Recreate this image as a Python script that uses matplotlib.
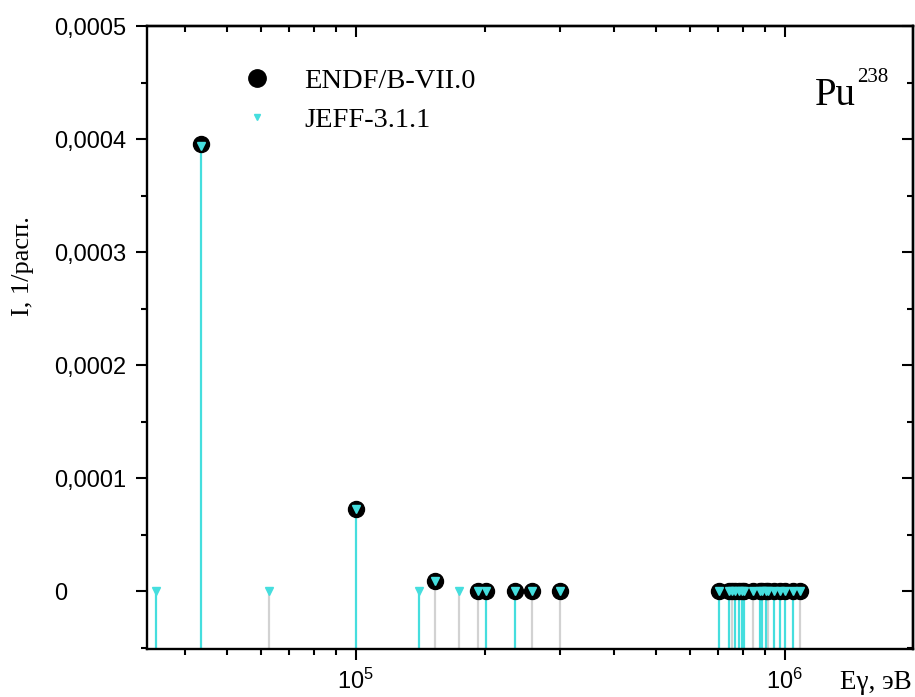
import matplotlib
matplotlib.use('Agg')
import matplotlib.pyplot as plt
from matplotlib.ticker import FuncFormatter, LogLocator, MultipleLocator, NullFormatter
from matplotlib.lines import Line2D

# ENDF/B-VII.0 lines: energy (eV) and intensity (1/decay)
endf_energy = [43500, 99900, 152700, 192800, 201000, 235000, 257700, 299500,
               703000, 742000, 752000, 765000, 783000, 793000, 804000, 844000,
               875000, 887000, 903000, 914000, 943000, 974000, 1000000,
               1045000, 1084000]
endf_intensity = [0.000396, 0.0000728, 0.0000088, 0, 0, 0, 0, 0,
                  0, 0, 0, 0, 0, 0, 0, 0,
                  0, 0, 0, 0, 0, 0, 0,
                  0, 0]

# JEFF-3.1.1 lines
jeff_energy = [34250, 43500, 62800, 99900, 140400, 152700, 174000, 192800,
               201000, 235000, 257700, 299500,
               703000, 742000, 752000, 765000, 783000, 793000, 804000, 844000,
               875000, 887000, 903000, 914000, 943000, 974000, 1000000,
               1045000, 1084000]
jeff_intensity = [0, 0.000394, 0, 0.0000728, 0, 0.0000088, 0, 0,
                  0, 0, 0, 0,
                  0, 0, 0, 0, 0, 0, 0, 0,
                  0, 0, 0, 0, 0, 0, 0,
                  0, 0]

# JEFF drop lines that show up grey in the original
grey_drop = {62800, 152700, 174000, 192800, 257700, 299500,
             752000, 844000, 914000, 1084000}

CYAN = '#45dede'
GREY = '#d2d2d2'
SERIF = 'Liberation Serif'

plt.rcParams['font.family'] = 'Liberation Sans'
plt.rcParams['mathtext.fontset'] = 'custom'
plt.rcParams['mathtext.rm'] = 'Liberation Sans'

W, H = 915, 697
fig = plt.figure(figsize=(W / 100, H / 100), dpi=100)
ax = fig.add_axes([147 / W, 1 - 649 / H, (913 - 147) / W, (649 - 26) / H])
ax.set_xscale('log')
ax.set_xlim(32600, 1.99e6)
ax.set_ylim(-0.000051, 0.0005)
ybot = ax.get_ylim()[0]

# drop lines
ax.vlines(endf_energy, ybot, endf_intensity, color=GREY, lw=1.3, zorder=1)
for e, v in zip(jeff_energy, jeff_intensity):
    c = GREY if e in grey_drop else CYAN
    ax.vlines(e, ybot, v, color=c, lw=1.6, zorder=2 if c == CYAN else 1)

ax.plot(endf_energy, endf_intensity, ls='none', marker='o', ms=11.5,
        color='black', zorder=3)
ax.plot(jeff_energy, jeff_intensity, ls='none', marker='v', ms=5.5,
        color=CYAN, zorder=4)

# axes styling
for s in ax.spines.values():
    s.set_linewidth(1.7)
ax.xaxis.set_major_locator(LogLocator(base=10))
ax.xaxis.set_minor_locator(LogLocator(base=10, subs=range(2, 10)))
ax.xaxis.set_minor_formatter(NullFormatter())
ax.set_yticks([0, 0.0001, 0.0002, 0.0003, 0.0004, 0.0005])
ax.yaxis.set_minor_locator(MultipleLocator(0.00005))
ax.yaxis.set_major_formatter(FuncFormatter(
    lambda v, p: '0' if abs(v) < 1e-12 else f'{v:.4f}'.replace('.', ',')))

ax.tick_params(which='major', length=8, width=1.5, labelsize=17)
ax.tick_params(which='minor', length=4.5, width=1.5)
ax.tick_params(axis='x', which='both', direction='out', top=False, pad=6)
ax.tick_params(axis='y', which='both', direction='out', right=False, pad=59)
plt.setp(ax.get_yticklabels(), ha='left')

# inward ticks on top and right
secx = ax.secondary_xaxis('top')
secx.xaxis.set_major_locator(LogLocator(base=10))
secx.xaxis.set_minor_locator(LogLocator(base=10, subs=range(2, 10)))
secx.xaxis.set_major_formatter(NullFormatter())
secx.xaxis.set_minor_formatter(NullFormatter())
secx.tick_params(which='major', direction='in', length=8, width=1.5)
secx.tick_params(which='minor', direction='in', length=4.5, width=1.5)
secy = ax.secondary_yaxis('right')
secy.set_yticks([0, 0.0001, 0.0002, 0.0003, 0.0004, 0.0005])
secy.yaxis.set_minor_locator(MultipleLocator(0.00005))
secy.yaxis.set_major_formatter(NullFormatter())
secy.tick_params(which='major', direction='in', length=8, width=1.5)
secy.tick_params(which='minor', direction='in', length=4.5, width=1.5)
for sa in (secx, secy):
    for s in sa.spines.values():
        s.set_linewidth(1.7)

# legend
handles = [Line2D([], [], ls='none', marker='o', ms=12.5, color='black'),
           Line2D([], [], ls='none', marker='v', ms=5, color=CYAN)]
ax.legend(handles, ['ENDF/B-VII.0', 'JEFF-3.1.1'], loc='upper left',
          bbox_to_anchor=(236 / W, 1 - 68 / H), bbox_transform=fig.transFigure,
          frameon=False, prop={'family': SERIF, 'size': 20.5},
          handlelength=1.5, handletextpad=0.9, labelspacing=0.45,
          borderpad=0, borderaxespad=0)

# labels
fig.text(815 / W, 1 - 105 / H, 'Pu', family=SERIF, size=28, va='baseline')
fig.text(857 / W, 1 - 82 / H, '238', family=SERIF, size=15, va='baseline')
fig.text(23 / W, 1 - 266 / H, 'I, 1/расп.', family=SERIF, size=19,
         rotation=90, ha='center', va='center')
fig.text(912 / W, 1 - 689 / H, 'Eγ, эВ', family=SERIF, size=19.5,
         ha='right', va='baseline')

fig.savefig('out.png', dpi=100)
